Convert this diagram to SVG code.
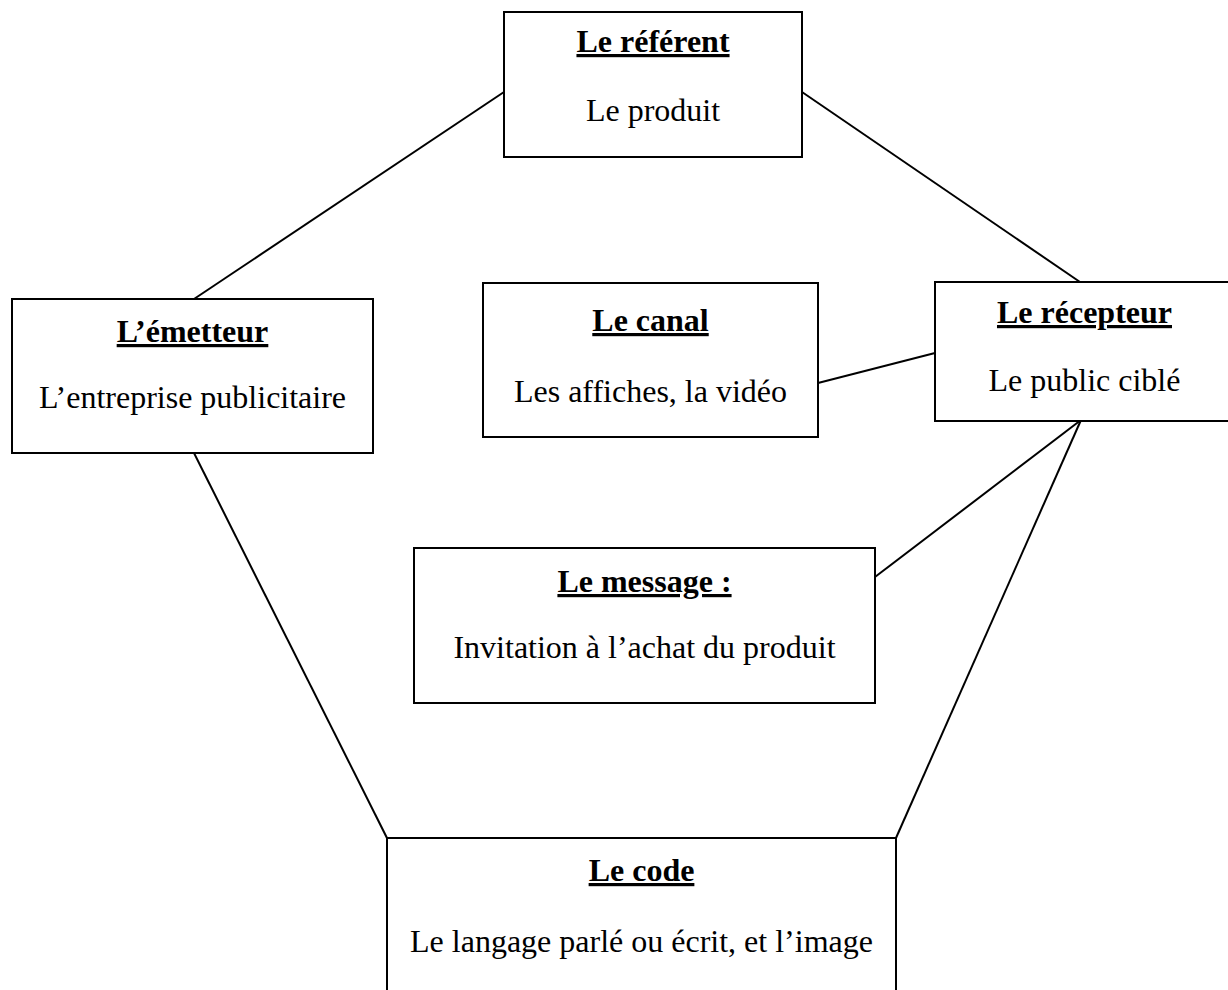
<svg xmlns="http://www.w3.org/2000/svg" width="1228" height="990" viewBox="0 0 1228 990">
<style>
  .box { fill: #ffffff; stroke: #000000; stroke-width: 2; }
  .conn { stroke: #000000; stroke-width: 2; fill: none; }
  .title { font-family: "Liberation Serif", "Times New Roman", serif; font-size: 32px; font-weight: bold; text-anchor: middle; fill: #000000; text-decoration: underline; }
  .body { font-family: "Liberation Serif", "Times New Roman", serif; font-size: 32px; text-anchor: middle; fill: #000000; }
</style>
<rect x="0" y="0" width="1228" height="990" fill="#ffffff"/>
<g id="connectors">
  <line class="conn" x1="504" y1="92" x2="194" y2="299"/>
  <line class="conn" x1="802" y1="92" x2="1080" y2="282"/>
  <line class="conn" x1="818" y1="383" x2="935" y2="353"/>
  <line class="conn" x1="875" y1="577" x2="1081" y2="420"/>
  <line class="conn" x1="194" y1="453" x2="387" y2="838"/>
  <line class="conn" x1="1081" y1="420" x2="896" y2="838"/>
</g>
<g id="referent">
  <rect class="box" x="504" y="12" width="298" height="145"/>
  <text class="title" x="653" y="52">Le référent</text>
  <text class="body" x="653" y="121">Le produit</text>
</g>
<g id="emetteur">
  <rect class="box" x="12" y="299" width="361" height="154"/>
  <text class="title" x="192.5" y="342">L’émetteur</text>
  <text class="body" x="192.5" y="408">L’entreprise publicitaire</text>
</g>
<g id="canal">
  <rect class="box" x="483" y="283" width="335" height="154"/>
  <text class="title" x="650.5" y="331">Le canal</text>
  <text class="body" x="650.5" y="402">Les affiches, la vidéo</text>
</g>
<g id="recepteur">
  <rect class="box" x="935" y="282" width="298" height="139"/>
  <text class="title" x="1084.5" y="323">Le récepteur</text>
  <text class="body" x="1084.5" y="391">Le public ciblé</text>
</g>
<g id="message">
  <rect class="box" x="414" y="548" width="461" height="155"/>
  <text class="title" x="644.5" y="592">Le message :</text>
  <text class="body" x="644.5" y="658">Invitation à l’achat du produit</text>
</g>
<g id="code">
  <rect class="box" x="387" y="838" width="509" height="170"/>
  <text class="title" x="641.5" y="881">Le code</text>
  <text class="body" x="641.5" y="952">Le langage parlé ou écrit, et l’image</text>
</g>
</svg>
